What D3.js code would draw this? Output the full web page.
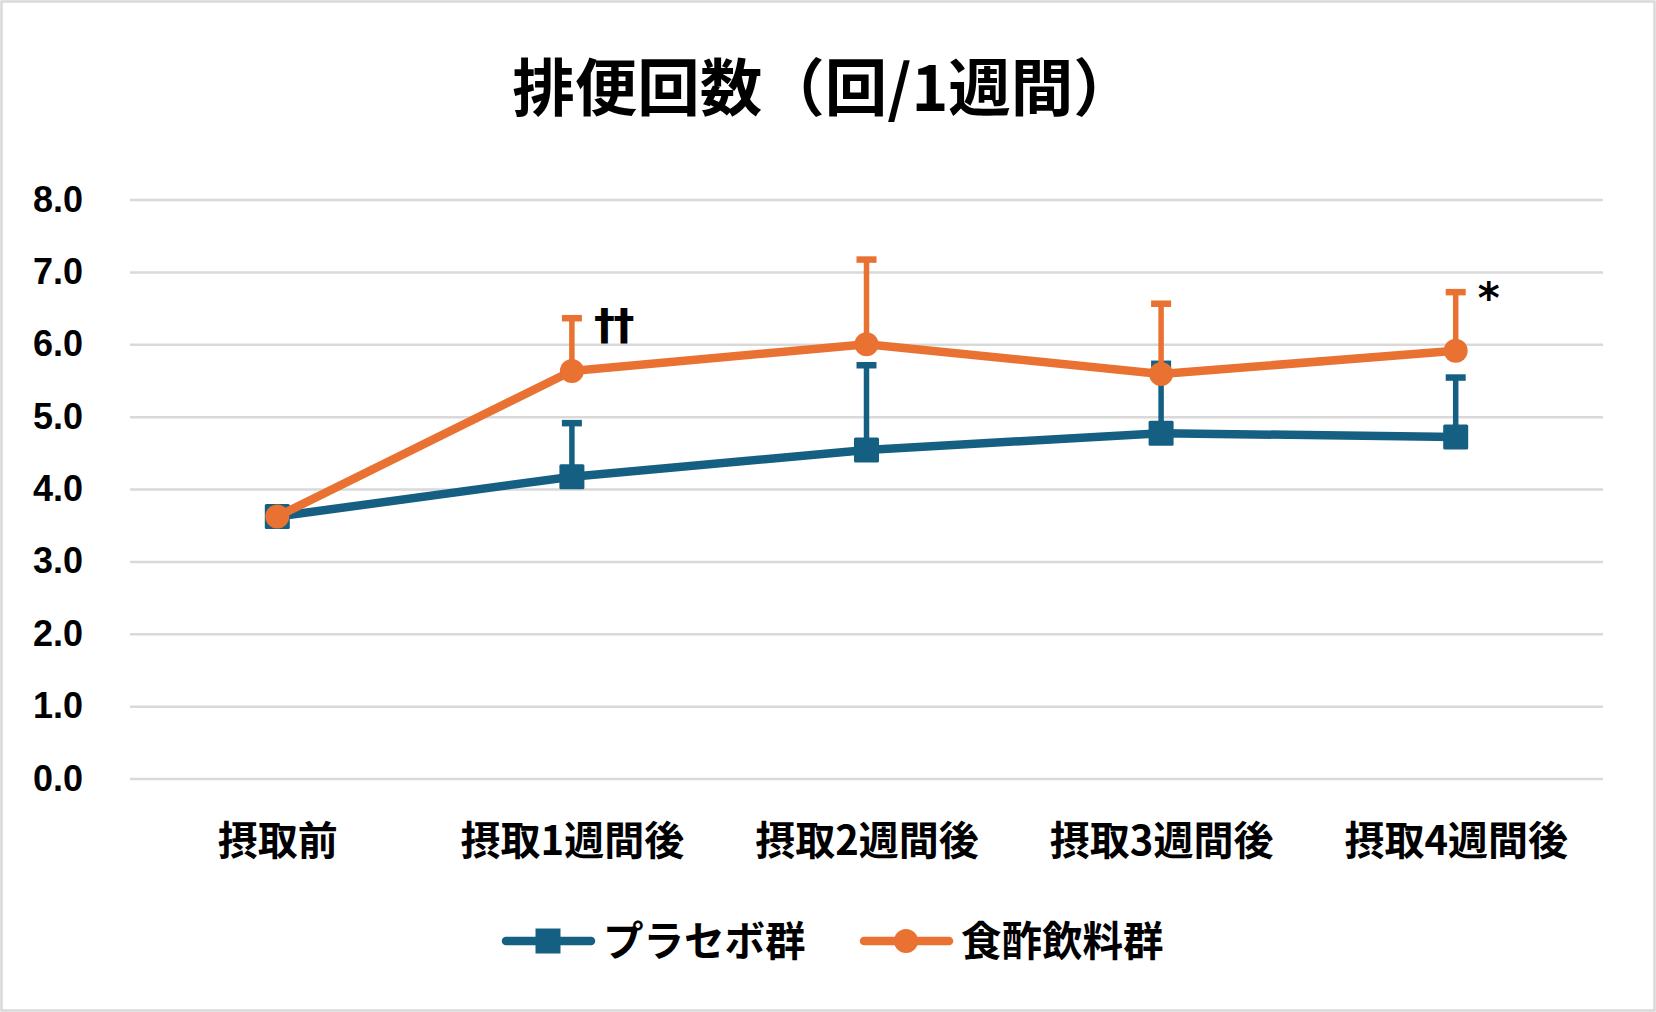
<!DOCTYPE html>
<html>
<head>
<meta charset="utf-8">
<script src="https://cdn.jsdelivr.net/npm/d3@7"></script>
<style>
  html, body { margin: 0; padding: 0; background: #fff; }
  svg { display: block; }
</style>
</head>
<body>
<svg id="chart" width="1656" height="1012"></svg>
<script>
var categories = ['摂取前', '摂取1週間後', '摂取2週間後', '摂取3週間後', '摂取4週間後']
var placeboMean = [3.62, 4.17, 4.54, 4.77, 4.72]
var placeboErr = [0, 0.74, 1.17, 0.96, 0.82]
var vinegarMean = [3.62, 5.63, 6.00, 5.59, 5.91]
var vinegarErr = [0, 0.73, 1.17, 0.97, 0.81]
var sigMarks = ['', '††', '', '', '*']
var yTicks = [0, 1, 2, 3, 4, 5, 6, 7, 8]
var seriesNames = ['プラセボ群', '食酢飲料群']

var W = 1656, H = 1012
var plotLeft = 130, plotRight = 1603, plotTop = 199.5, plotBottom = 778.5
var blue = '#156082', orange = '#E97132', grid = '#d9d9d9'
var cjk = '"Noto Sans CJK JP", "Noto Sans", sans-serif'

var svg = d3.select('#chart')

svg.append('rect').attr('x', 1.5).attr('y', 1.5).attr('width', W - 3).attr('height', H - 3)
  .attr('fill', '#fff').attr('stroke', grid).attr('stroke-width', 2.5)

/** title */
svg.append('text').attr('x', W / 2 - 4).attr('y', 111).attr('text-anchor', 'middle')
  .style('font-family', cjk).style('font-weight', 700).style('font-size', '62.5px').attr('fill', '#000')
  .text('排便回数（回/1週間）')

var x = d3.scalePoint().domain(categories).range([plotLeft, plotRight]).padding(0.5)
var y = d3.scaleLinear().domain([0, 8]).range([plotBottom, plotTop])

/** y axis with gridlines */
var yAxis = svg.append('g').attr('transform', 'translate(' + plotLeft + ',0)')
  .call(d3.axisLeft(y).tickValues(yTicks).tickFormat(d3.format('.1f')).tickSize(-(plotRight - plotLeft)).tickPadding(47))
yAxis.select('.domain').remove()
yAxis.selectAll('.tick line').attr('stroke', grid).attr('stroke-width', 2.5)
yAxis.selectAll('.tick text').attr('fill', '#000')
  .style('font-family', '"Liberation Sans", Arial, sans-serif').style('font-weight', 700).style('font-size', '36px')

/** x axis labels */
var xAxis = svg.append('g').attr('transform', 'translate(0,' + plotBottom + ')')
  .call(d3.axisBottom(x).tickSize(0).tickPadding(56))
xAxis.select('.domain').remove()
xAxis.selectAll('.tick text').attr('fill', '#000').attr('dy', '0.5em')
  .style('font-family', cjk).style('font-weight', 700).style('font-size', '40px')

function drawSeries (means, errs, color, marker) {
  var g = svg.append('g')
  var pts = categories.map(function (c, i) { return {c: c, v: means[i], e: errs[i]} })

  /** error bars (upper only) */
  var eb = g.selectAll('.eb').data(pts.filter(function (d) { return d.e > 0 })).enter()
  eb.append('line').attr('x1', function (d) { return x(d.c) }).attr('x2', function (d) { return x(d.c) })
    .attr('y1', function (d) { return y(d.v) }).attr('y2', function (d) { return y(d.v + d.e) })
    .attr('stroke', color).attr('stroke-width', 5.5)
  eb.append('line').attr('x1', function (d) { return x(d.c) - 10 }).attr('x2', function (d) { return x(d.c) + 10 })
    .attr('y1', function (d) { return y(d.v + d.e) }).attr('y2', function (d) { return y(d.v + d.e) })
    .attr('stroke', color).attr('stroke-width', 6.5)

  g.append('path').datum(pts)
    .attr('d', d3.line().x(function (d) { return x(d.c) }).y(function (d) { return y(d.v) }))
    .attr('fill', 'none').attr('stroke', color).attr('stroke-width', 8.5).attr('stroke-linejoin', 'round')

  if (marker === 'square') {
    g.selectAll('.m').data(pts).enter().append('rect')
      .attr('x', function (d) { return x(d.c) - 12.5 }).attr('y', function (d) { return y(d.v) - 12.5 })
      .attr('width', 25).attr('height', 25).attr('rx', 1.5).attr('fill', color)
  } else {
    g.selectAll('.m').data(pts).enter().append('circle')
      .attr('cx', function (d) { return x(d.c) }).attr('cy', function (d) { return y(d.v) })
      .attr('r', 12).attr('fill', color)
  }
}

drawSeries(placeboMean, placeboErr, blue, 'square')
drawSeries(vinegarMean, vinegarErr, orange, 'circle')

/** significance marks next to vinegar error caps */
svg.selectAll('.sig').data(categories.filter(function (c, i) { return sigMarks[i] })).enter()
  .append('text')
  .attr('x', function (c) { return x(c) + 22 })
  .attr('y', function (c) { var i = categories.indexOf(c); return y(vinegarMean[i] + vinegarErr[i]) + 21 })
  .style('font-family', '"DejaVu Sans", sans-serif').style('font-weight', 700).style('font-size', '42px')
  .style('letter-spacing', '-1.5px')
  .attr('fill', '#000')
  .text(function (c) { return sigMarks[categories.indexOf(c)] })

/** legend */
var legendItems = [
  {name: seriesNames[0], color: blue, marker: 'square', x0: 502},
  {name: seriesNames[1], color: orange, marker: 'circle', x0: 860}
]
var ly = 941
legendItems.forEach(function (d) {
  var lg = svg.append('g')
  lg.append('line').attr('x1', d.x0 + 4).attr('x2', d.x0 + 89).attr('y1', ly).attr('y2', ly)
    .attr('stroke', d.color).attr('stroke-width', 8.5).attr('stroke-linecap', 'round')
  if (d.marker === 'square') {
    lg.append('rect').attr('x', d.x0 + 46 - 12.5).attr('y', ly - 12.5).attr('width', 25).attr('height', 25).attr('fill', d.color)
  } else {
    lg.append('circle').attr('cx', d.x0 + 46).attr('cy', ly).attr('r', 12).attr('fill', d.color)
  }
  lg.append('text').attr('x', d.x0 + 101).attr('y', ly).attr('dy', '0.36em')
    .style('font-family', cjk).style('font-weight', 600).style('font-size', '40.5px').attr('fill', '#000')
    .text(d.name)
})
</script>
</body>
</html>
